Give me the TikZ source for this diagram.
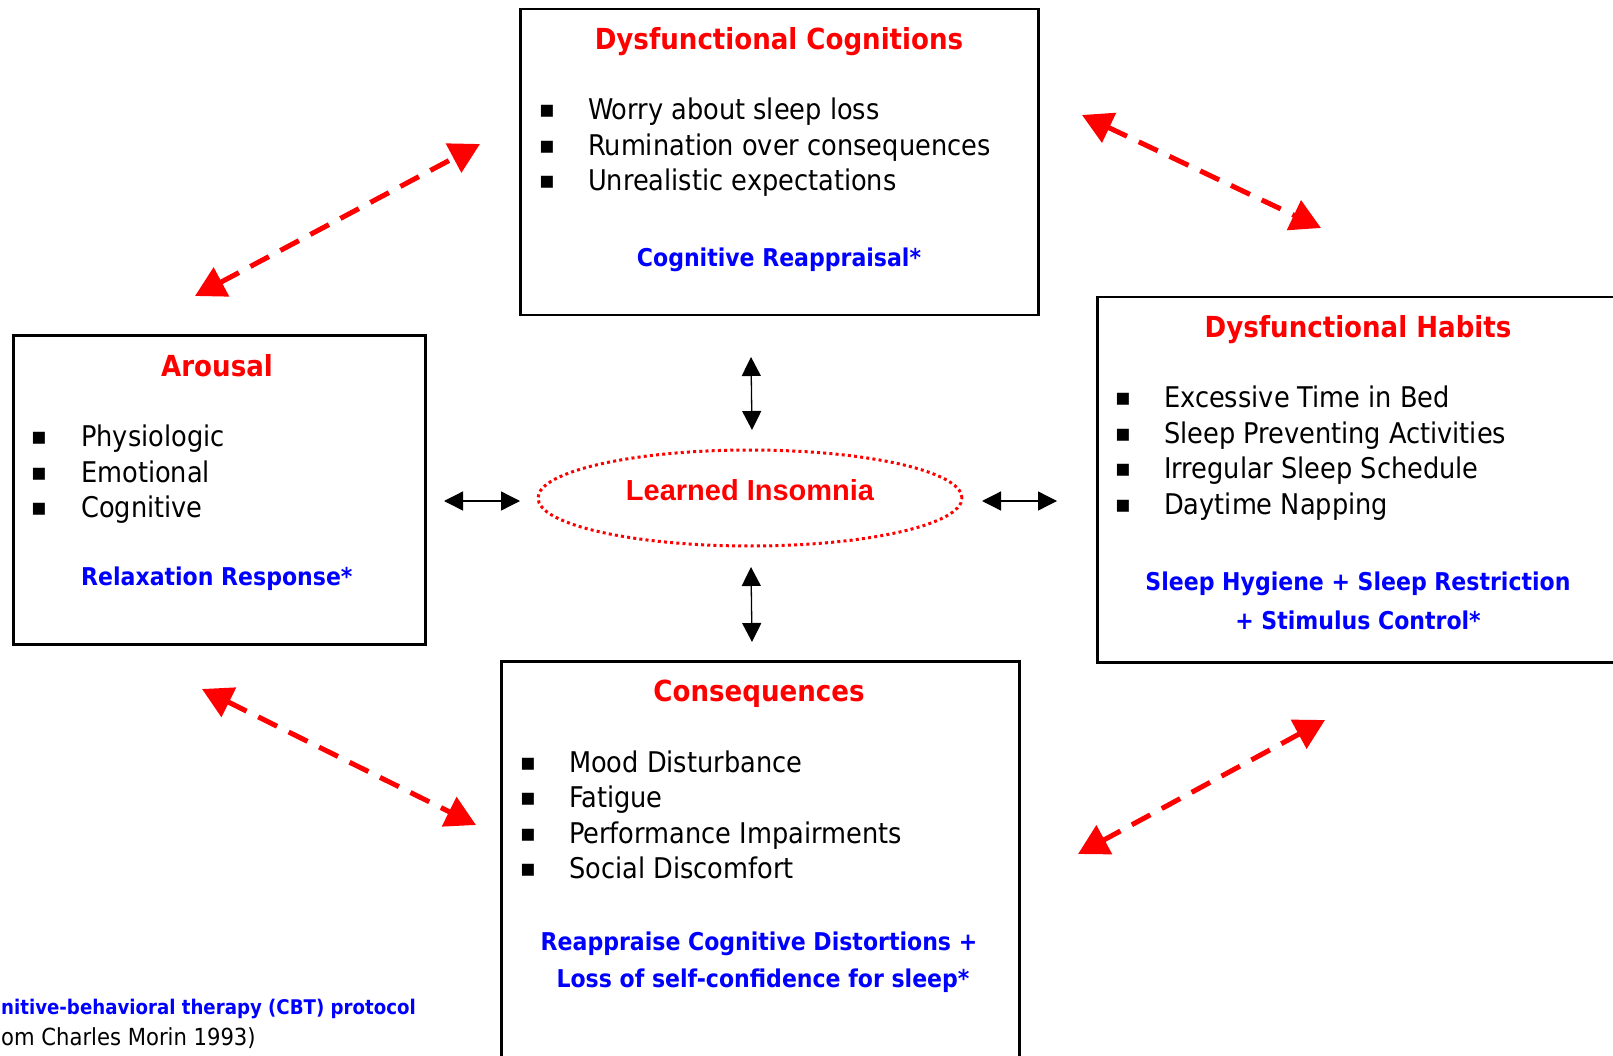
\documentclass[tikz,border=0pt]{standalone}
\usepackage{fontspec}
\setmainfont{DejaVu Sans Condensed}
\newfontfamily\bodyf{DejaVu Sans Condensed}
\newfontfamily\ariaf{Liberation Sans}
\newfontfamily\comicf{DejaVu Sans Condensed}
\newfontfamily\symf{DejaVu Sans}
\usetikzlibrary{arrows.meta,shapes.geometric}
\definecolor{hred}{RGB}{255,0,0}
\definecolor{hblue}{RGB}{0,0,255}
\begin{document}
\begin{tikzpicture}[x=1pt,y=-1pt,
  box/.style={draw=black, line width=2.5pt, rectangle, inner sep=0pt, anchor=north west},
  heading/.style={font=\bodyf\bfseries\fontsize{29}{34}\selectfont, text=hred, inner sep=0pt},
  item/.style={font=\bodyf\fontsize{28.5}{34}\selectfont, inner sep=0pt, anchor=mid west},
  bul/.style={font=\symf\fontsize{24}{30}\selectfont, inner sep=0pt},
  therapy/.style={font=\comicf\bfseries\fontsize{24.5}{30}\selectfont, text=hblue, inner sep=0pt},
  redarr/.style={draw=hred, line width=5pt, dash pattern=on 21pt off 13pt,
    {Triangle[length=30pt,width=32pt]}-{Triangle[length=30pt,width=32pt]}},
  blkarr/.style={draw=black, line width=1.3pt,
    {Triangle[length=19pt,width=19pt]}-{Triangle[length=19pt,width=19pt]}}
]
\useasboundingbox (0,0) rectangle (1613,1056);
\clip (0,0) rectangle (1613,1056);

% boxes
\node[box, minimum width=518pt, minimum height=306pt] (cog) at (519,8) {};
\node[box, minimum width=412pt, minimum height=309pt] (aro) at (12,334) {};
\node[box, minimum width=540pt, minimum height=365pt] (hab) at (1096,296) {};
\node[box, minimum width=518pt, minimum height=420pt] (con) at (500,660) {};

% Dysfunctional Cognitions
\node[heading] (cogT) at (779,42) {Dysfunctional Cognitions};
\node[bul] (cogb1) at (547,111) {▪};
\node[bul] (cogb2) at (547,147) {▪};
\node[bul] (cogb3) at (547,182) {▪};
\node[item] (cog1) at (588,117) {Worry about sleep loss};
\node[item] (cog2) at (588,153) {Rumination over consequences};
\node[item] (cog3) at (588,188) {Unrealistic expectations};
\node[therapy] (cogR) at (779,260) {Cognitive Reappraisal*};

% Arousal
\node[heading] (aroT) at (217,366) {Arousal};
\node[bul] (arob1) at (39,438) {▪};
\node[bul] (arob2) at (39,474) {▪};
\node[bul] (arob3) at (39,509) {▪};
\node[item] (aro1) at (81,444) {Physiologic};
\node[item] (aro2) at (81,480) {Emotional};
\node[item] (aro3) at (81,515) {Cognitive};
\node[therapy, anchor=mid west] (aroR) at (81,583) {Relaxation Response*};

% Dysfunctional Habits
\node[heading] (habT) at (1358,330) {Dysfunctional Habits};
\node[bul] (habb1) at (1123,399) {▪};
\node[bul] (habb2) at (1123,435) {▪};
\node[bul] (habb3) at (1123,470) {▪};
\node[bul] (habb4) at (1123,506) {▪};
\node[item] (hab1) at (1164,405) {Excessive Time in Bed};
\node[item] (hab2) at (1164,441) {Sleep Preventing Activities};
\node[item] (hab3) at (1164,476) {Irregular Sleep Schedule};
\node[item] (hab4) at (1164,512) {Daytime Napping};
\node[therapy] (habR1) at (1358,584) {Sleep Hygiene + Sleep Restriction};
\node[therapy] (habR2) at (1358,620) {+ Stimulus Control*};

% Consequences
\node[heading] (conT) at (759,694) {Consequences};
\node[bul] (conb1) at (528,764) {▪};
\node[bul] (conb2) at (528,799) {▪};
\node[bul] (conb3) at (528,835) {▪};
\node[bul] (conb4) at (528,870) {▪};
\node[item] (con1) at (569,770) {Mood Disturbance};
\node[item] (con2) at (569,805) {Fatigue};
\node[item] (con3) at (569,841) {Performance Impairments};
\node[item] (con4) at (569,876) {Social Discomfort};
\node[therapy] (conR1) at (759,944) {Reappraise Cognitive Distortions +};
\node[therapy] (conR2) at (763,981) {Loss of self-confidence for sleep*};

% center ellipse
\node[draw=hred, line width=3pt, dash pattern=on 3pt off 3.2pt, ellipse,
  minimum width=424pt, minimum height=96pt, inner sep=0pt] (ins) at (750,498) {};
\node[font=\ariaf\bfseries\fontsize{29}{32}\selectfont, text=hred, inner sep=0pt] (insT) at (750,490) {Learned Insomnia};

% small black arrows
\coordinate (ut) at (751,357); \coordinate (ub) at (752,430);
\coordinate (dt) at (751,567); \coordinate (db) at (752,642);
\coordinate (ll) at (444,501); \coordinate (lr) at (520,501);
\coordinate (rl) at (982,501); \coordinate (rr) at (1057,501);
\draw[blkarr] (ut) -- (ub);
\draw[blkarr] (dt) -- (db);
\draw[blkarr] (ll) -- (lr);
\draw[blkarr] (rl) -- (rr);

% red dashed arrows
\coordinate (a1) at (195,296); \coordinate (a2) at (480,144);
\coordinate (b1) at (1082,115); \coordinate (b2) at (1321,228);
\coordinate (c1) at (202,689); \coordinate (c2) at (476,825);
\coordinate (d1) at (1325,720); \coordinate (d2) at (1078,854);
\draw[redarr] (a1) -- (a2);
\draw[redarr] (b1) -- (b2);
\draw[redarr] (c1) -- (c2);
\draw[redarr] (d1) -- (d2);

% footnote
\node[font=\comicf\bfseries\fontsize{20.2}{22}\selectfont, text=hblue, inner sep=0pt, anchor=mid west] (fn1) at (1,1012) {nitive-behavioral therapy (CBT) protocol};
\node[font=\comicf\fontsize{23.5}{26}\selectfont, inner sep=0pt, anchor=mid west] (fn2) at (1,1043) {om Charles Morin 1993)};
\end{tikzpicture}
\end{document}
